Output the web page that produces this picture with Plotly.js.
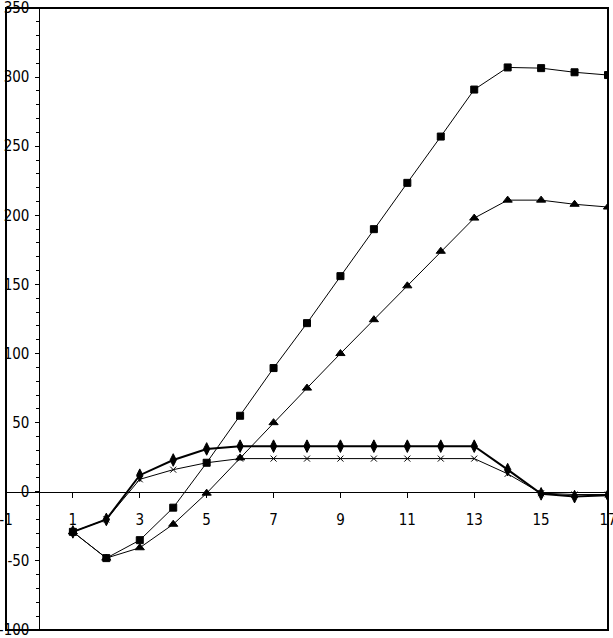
<!DOCTYPE html>
<html>
<head>
<meta charset="utf-8">
<script src="https://cdn.plot.ly/plotly-3.0.1.min.js"></script>
<style>
  html, body { margin: 0; padding: 0; background: #fff; }
  #chart { width: 613px; height: 638px; }
</style>
</head>
<body>
<div id="chart"></div>
<script>
// values
const xValues = [1, 2, 3, 4, 5, 6, 7, 8, 9, 10, 11, 12, 13, 14, 15, 16, 17];
const diamondSeries = [-29, -20, 12, 23, 31, 33, 33, 33, 33, 33, 33, 33, 33, 16, -1.5, -3.5, -2.5];
const crossSeries = [-29, -20, 9, 16, 21, 24, 24, 24, 24, 24, 24, 24, 24, 13, -1, -2, -2];
const squareSeries = [-29, -48, -35, -11.5, 21, 55, 89.5, 122, 156, 190, 223.5, 257, 291, 307, 306.5, 303.5, 301.5];
const triangleSeries = [-29, -48, -40.5, -23.5, -1, 24.5, 50, 75, 100, 124.5, 149, 174, 198, 211, 211, 208, 206];

const xTicks = [-1, 1, 3, 5, 7, 9, 11, 13, 15, 17];
const yTicks = [-100, -50, 0, 50, 100, 150, 200, 250, 300, 350];

const X_RANGE = [-1, 17];
const Y_RANGE = [-100, 350];
const FONT = "'Liberation Sans Narrow', 'Arial Narrow', 'DejaVu Sans Condensed', sans-serif";

function series(y, symbol, size, lineWidth) {
    return {
        x: xValues,
        y: y,
        type: "scatter",
        mode: "lines+markers",
        line: { color: "#000", width: lineWidth },
        marker: { symbol: symbol, size: size, color: "#000", line: { color: "#000", width: 1 } },
        hoverinfo: "x+y",
    };
}

const traces = [
    series(triangleSeries, "triangle-up", 8, 1),
    series(squareSeries, "square", 7, 1),
    series(crossSeries, "x-thin", 6, 1),
    series(diamondSeries, "diamond-tall", 9, 2),
];

// axes cross at x=0 / y=0, as in the original
const yAxisPos = (0 - X_RANGE[0]) / (X_RANGE[1] - X_RANGE[0]);
const xAxisPos = (0 - Y_RANGE[0]) / (Y_RANGE[1] - Y_RANGE[0]);

const layout = {
    width: 613,
    height: 638,
    paper_bgcolor: "#fff",
    plot_bgcolor: "#fff",
    margin: { l: 6, r: 5, t: 8, b: 8 },
    showlegend: false,
    font: { family: FONT, size: 15, color: "#000" },
    xaxis: {
        range: X_RANGE,
        anchor: "free",
        position: xAxisPos,
        showgrid: false,
        zeroline: false,
        showline: true,
        linecolor: "#000",
        linewidth: 1,
        tickmode: "array",
        tickvals: xTicks,
        ticktext: xTicks.map(String),
        ticks: "outside",
        ticklen: 5,
        tickcolor: "#000",
        ticklabelstandoff: 9,
        ticklabeloverflow: "allow",
    },
    xaxis2: {
        range: X_RANGE,
        overlaying: "x",
        anchor: "free",
        position: xAxisPos,
        showgrid: false,
        zeroline: false,
        showline: false,
        showticklabels: false,
        tickmode: "array",
        tickvals: xTicks,
        ticks: "inside",
        ticklen: 5,
        tickcolor: "#000",
    },
    yaxis: {
        range: Y_RANGE,
        anchor: "free",
        position: yAxisPos,
        showgrid: false,
        zeroline: false,
        showline: true,
        linecolor: "#000",
        linewidth: 1,
        tickmode: "array",
        tickvals: yTicks,
        ticktext: yTicks.map(String),
        ticks: "outside",
        ticklen: 4,
        tickcolor: "#000",
        ticklabelstandoff: 3,
        ticklabeloverflow: "allow",
        minor: { dtick: 10, ticks: "outside", ticklen: 3, tickcolor: "#000", showgrid: false },
    },
    yaxis2: {
        range: Y_RANGE,
        overlaying: "y",
        anchor: "free",
        position: yAxisPos,
        showgrid: false,
        zeroline: false,
        showline: false,
        showticklabels: false,
        tickmode: "array",
        tickvals: yTicks,
        ticks: "inside",
        ticklen: 4,
        tickcolor: "#000",
    },
    shapes: [
        {
            type: "rect", xref: "paper", yref: "paper",
            x0: 0, x1: 1, y0: 0, y1: 1,
            line: { color: "#000", width: 2 },
            layer: "above",
        },
    ],
};

Plotly.newPlot("chart", traces, layout, { staticPlot: true });
</script>
</body>
</html>
